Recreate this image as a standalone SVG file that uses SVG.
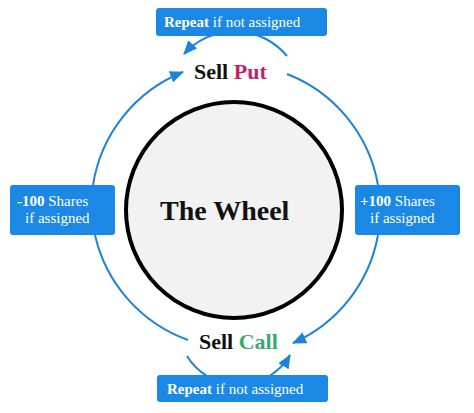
<svg xmlns="http://www.w3.org/2000/svg" width="474" height="413" viewBox="0 0 474 413">
<style>
  .arc { fill: none; stroke: #1c84d8; stroke-width: 2; }
  .box { fill: #1b88e5; }
  .bt { font-family: "Liberation Serif", "Times New Roman", serif; font-size: 15px; fill: #ffffff; }
  .lbl { font-family: "Liberation Serif", "Times New Roman", serif; font-size: 22px; font-weight: bold; fill: #111111; }
  b, .b { font-weight: bold; }
</style>
<defs>
  <marker id="ah" markerUnits="userSpaceOnUse" markerWidth="14" markerHeight="12" refX="13" refY="6" orient="auto">
    <path d="M0,0 L14,6 L0,12 z" fill="#1c84d8"/>
  </marker>
</defs>
<rect width="474" height="413" fill="#ffffff"/>
<g id="connectors">
  <path class="arc" d="M 93 185 A 146 146 0 0 1 183 72" marker-end="url(#ah)"/>
  <path class="arc" d="M 287 74 A 146 146 0 0 1 378 185"/>
  <path class="arc" d="M 378 235 A 146 146 0 0 1 293 343" marker-end="url(#ah)"/>
  <path class="arc" d="M 95 235 A 146 146 0 0 0 188 340"/>
  <path class="arc" d="M 287 56 A 68 68 0 0 0 184 54" marker-end="url(#ah)"/>
  <path class="arc" d="M 187 356 A 60 60 0 0 0 290 355" marker-end="url(#ah)"/>
</g>
<g id="wheel">
  <circle cx="234" cy="210" r="108" fill="#f2f2f2" stroke="#000000" stroke-width="4"/>
  <text x="160" y="220" font-family="Liberation Serif, Times New Roman, serif" font-size="28" font-weight="bold" fill="#111111">The Wheel</text>
</g>
<g id="sell-put">
  <text class="lbl" x="194" y="79">Sell <tspan fill="#c41f6b">Put</tspan></text>
</g>
<g id="sell-call">
  <text class="lbl" x="199" y="349">Sell <tspan fill="#3aa86e">Call</tspan></text>
</g>
<g id="repeat-top">
  <rect class="box" x="156" y="8" width="171" height="28" rx="3"/>
  <text class="bt" x="164" y="27"><tspan class="b">Repeat</tspan> if not assigned</text>
</g>
<g id="repeat-bottom">
  <rect class="box" x="157" y="375" width="171" height="27" rx="3"/>
  <text class="bt" x="167" y="394"><tspan class="b">Repeat</tspan> if not assigned</text>
</g>
<g id="minus-shares">
  <rect class="box" x="10" y="185" width="105" height="50" rx="3"/>
  <text class="bt" x="17" y="206"><tspan class="b">-100</tspan> Shares</text>
  <text class="bt" x="25" y="223">if assigned</text>
</g>
<g id="plus-shares">
  <rect class="box" x="355" y="185" width="105" height="50" rx="3"/>
  <text class="bt" x="360" y="206"><tspan class="b">+100</tspan> Shares</text>
  <text class="bt" x="370" y="223">if assigned</text>
</g>
</svg>
